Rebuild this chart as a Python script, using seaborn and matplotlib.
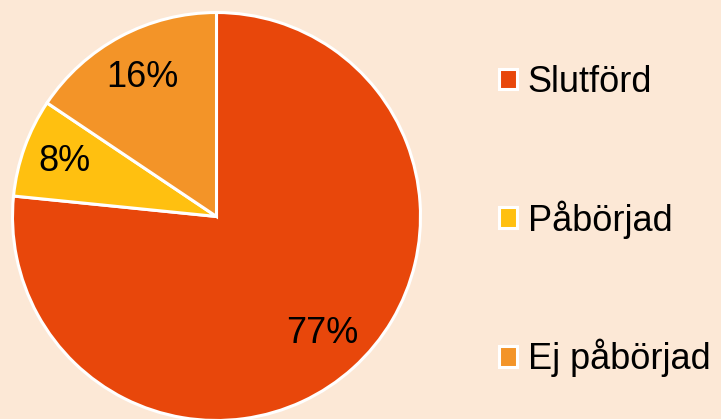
import matplotlib
matplotlib.use("Agg")
import matplotlib.pyplot as plt
from matplotlib.patches import Patch
import numpy as np
import seaborn as sns

# ========= DATA =========
categories = ["Slutförd", "Påbörjad", "Ej påbörjad"]
shares = [76.6, 7.8, 15.6]
pct_labels = ["77%", "8%", "16%"]
colors = ["#E8470B", "#FFC010", "#F39428"]
BG = "#FCE8D6"

# ========= STYLE =========
sns.set_theme(style="white")
plt.rcParams["font.family"] = ["Liberation Sans", "DejaVu Sans"]
plt.rcParams["figure.facecolor"] = BG
plt.rcParams["axes.facecolor"] = BG
plt.rcParams["text.color"] = "black"

fig = plt.figure(figsize=(7.21, 4.19), dpi=100)
W, H = 721, 419
cx, cy, r = 216.5, 216.5, 204
ax = fig.add_axes([(cx - r) / W, 1 - (cy + r) / H, 2 * r / W, 2 * r / H])

wedges, _ = ax.pie(
    shares, colors=colors, startangle=90, counterclock=False,
    wedgeprops=dict(edgecolor="white", linewidth=2.2),
)
# percentage labels at the middle of each wedge
theta = 90.0
total = sum(shares)
for val, lab in zip(shares, pct_labels):
    span = 360.0 * val / total
    mid = np.deg2rad(theta - span / 2)
    rr = 0.79 if val < 10 else 0.77
    ax.text(rr * np.cos(mid), rr * np.sin(mid), lab, ha="center", va="center",
            fontsize=26, color="black")
    theta -= span
ax.set_xlim(-1, 1)
ax.set_ylim(-1, 1)
ax.set_aspect("equal")
ax.axis("off")

handles = [Patch(facecolor=c, edgecolor="white", linewidth=2.2) for c in colors]
fig.legend(
    handles, categories, loc="center left", bbox_to_anchor=(499 / W, 1 - 221 / H),
    frameon=False, fontsize=26, labelcolor="black", handlelength=0.5, handleheight=0.5,
    handletextpad=0.3, labelspacing=2.78, borderpad=0, borderaxespad=0,
)

fig.savefig("out.png", dpi=100, facecolor=BG)
